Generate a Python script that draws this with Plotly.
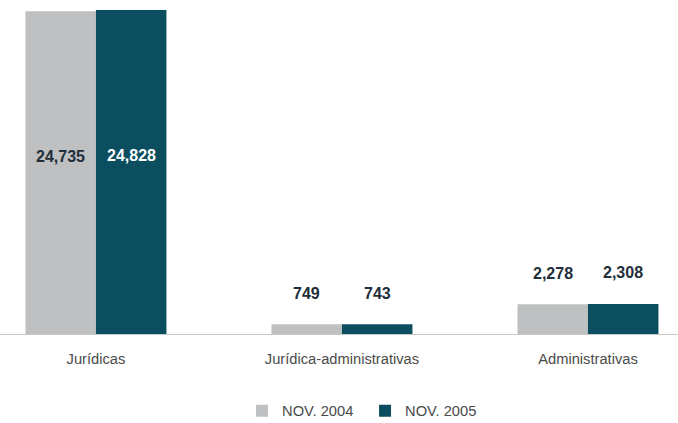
import plotly.graph_objects as go

categories = ["Jurídicas", "Jurídica-administrativas", "Administrativas"]
nov_2004 = [24735, 749, 2278]
nov_2005 = [24828, 743, 2308]
series_names = ["NOV. 2004", "NOV. 2005"]
colors = ["#BEC0C1", "#0B4E5F"]
label_colors_inside = ["#222E3A", "#FFFFFF"]

bargap = 0.427
fig = go.Figure()
for name, vals, col in zip(series_names, [nov_2004, nov_2005], colors):
    fig.add_trace(go.Bar(x=categories, y=vals, name=name, marker_color=col,
                         marker_line_width=0, hoverinfo="skip"))

ymax = max(nov_2004 + nov_2005)
half = (1 - bargap) / 4
annotations = []
for s, vals in enumerate([nov_2004, nov_2005]):
    off = -half if s == 0 else half
    for j, v in enumerate(vals):
        inside = v > ymax * 0.3
        annotations.append(dict(
            x=j + off, y=v * 0.55 if inside else v, xref="x", yref="y",
            text=f"<b>{v:,}</b>", showarrow=False,
            yshift=0 if inside else 31,
            font=dict(family="Liberation Sans, Arial", size=16,
                      color=label_colors_inside[s] if inside else "#222E3A"),
        ))

fig.update_layout(
    width=678, height=423,
    margin=dict(l=0, r=0, t=10, b=89),
    plot_bgcolor="white", paper_bgcolor="white",
    barmode="group", bargap=bargap, bargroupgap=0,
    font=dict(family="Liberation Sans, Arial", size=14.7, color="#4a4a4a"),
    xaxis=dict(range=[-0.39, 2.366], showline=True, linecolor="#C8C8C8", linewidth=1,
               ticks="outside", ticklen=11, tickcolor="rgba(0,0,0,0)",
               tickfont=dict(size=14.7, color="#4a4a4a"), showgrid=False),
    yaxis=dict(range=[0, ymax], visible=False, showgrid=False),
    showlegend=True,
    legend=dict(orientation="h", x=0.357, xanchor="left",
                yref="container", y=0.028, yanchor="middle",
                font=dict(size=14.7, color="#4a4a4a"), entrywidth=78,
                entrywidthmode="pixels", itemwidth=30),
    annotations=annotations,
)
fig.write_html("out.html", config={"displayModeBar": False},
               post_script="document.body.style.margin='0';document.body.style.padding='0';")
